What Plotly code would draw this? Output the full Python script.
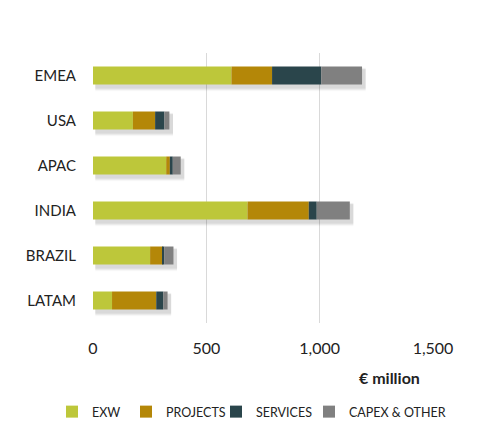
import plotly.graph_objects as go

regions = ["EMEA", "USA", "APAC", "INDIA", "BRAZIL", "LATAM"]
exw = [611, 176, 323, 682, 252, 84]
projects = [179, 98, 16, 270, 56, 195]
services = [217, 41, 13, 35, 6, 31]
capex_other = [180, 22, 35, 146, 41, 19]

series = [
    ("EXW", exw, "#BDC73A"),
    ("PROJECTS", projects, "#B48708"),
    ("SERVICES", services, "#2A454B"),
    ("CAPEX & OTHER", capex_other, "#808080"),
]

totals = [sum(v) for v in zip(exw, projects, services, capex_other)]

W, H = 495, 428

fig = go.Figure()

# soft drop shadow behind each stacked bar (several faint layers)
for spread, shift, alpha in [(0.06, 0.09, 0.025), (0.045, 0.085, 0.035),
                             (0.03, 0.08, 0.045), (0.015, 0.075, 0.05)]:
    fig.add_trace(go.Bar(
        y=regions, x=[t + 6 for t in totals], base=[10] * len(regions),
        orientation="h",
        width=0.4 + 2 * spread, offset=-0.2 - spread + shift,
        marker=dict(color=f"rgba(0,0,0,{alpha})", line=dict(width=0)),
        showlegend=False, hoverinfo="skip",
    ))

# one single-entry legend per series, laid out in a row
legend_ids = ["legend", "legend2", "legend3", "legend4"]
legend_left = [52, 126, 216, 309]

cum = [0] * len(regions)
for (name, vals, color), lid in zip(series, legend_ids):
    fig.add_trace(go.Bar(
        y=regions, x=vals, base=list(cum), orientation="h", name=name,
        width=0.4, offset=-0.2, legend=lid,
        marker=dict(color=color, line=dict(width=0)),
    ))
    cum = [c + v for c, v in zip(cum, vals)]

legend_style = dict(
    orientation="h", xref="container", yref="container",
    xanchor="left", yanchor="middle", y=(H - 412) / H,
    font=dict(size=12.5, color="#222222"), itemwidth=30,
    bgcolor="rgba(0,0,0,0)",
)
legends = {lid: dict(legend_style, x=left / W)
           for lid, left in zip(legend_ids, legend_left)}

fig.update_layout(
    width=W, height=H,
    margin=dict(l=93, r=62, t=53, b=105, autoexpand=False),
    paper_bgcolor="white", plot_bgcolor="white",
    barmode="overlay",
    font=dict(family="Lato, 'Open Sans', sans-serif", color="#222222"),
    xaxis=dict(
        range=[0, 1500], tickvals=[0, 500, 1000, 1500],
        ticktext=["0", "500", "1,000", "1,500"],
        showgrid=True, gridcolor="#d9d9d9", gridwidth=1,
        zeroline=False, showline=False, ticks="",
        ticklabelstandoff=14,
        tickfont=dict(size=16, color="#222222"),
    ),
    yaxis=dict(
        autorange="reversed", showgrid=False, zeroline=False,
        ticks="", ticklabelstandoff=16,
        tickfont=dict(size=15, color="#222222"),
    ),
    annotations=[dict(
        text="<b>€ million</b>", xref="paper", yref="paper",
        x=0.873, y=-0.2, xanchor="center", yanchor="middle",
        showarrow=False, font=dict(size=16, color="#222222"),
    )],
    **legends,
)

fig.write_html("out.html")
